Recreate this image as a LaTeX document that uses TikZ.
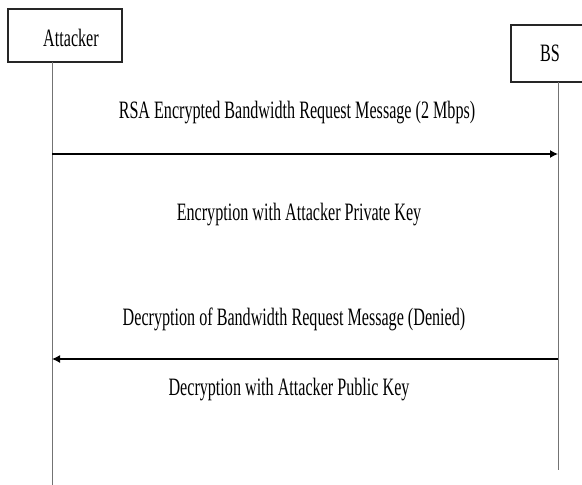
\documentclass[tikz,border=0pt]{standalone}
\usepackage{fontspec}
\setmainfont{Liberation Serif}
\usetikzlibrary{arrows.meta}
\tikzset{
  actor/.style={draw=black!85, line width=1.2pt, fill=white, inner sep=0pt},
  lifeline/.style={draw=black!55, line width=0.9pt},
  msg/.style={draw=black, line width=1.3pt, -{Latex[length=8pt,width=8pt]}},
  lbl/.style={inner sep=0pt, font=\fontsize{25}{28}\selectfont},
}
\newcommand{\cond}[1]{\scalebox{0.645}[1]{#1}}
\begin{document}
\begin{tikzpicture}[x=1pt,y=-1pt]
  \useasboundingbox (0,0) rectangle (582,485);
  % participants
  \node[actor, minimum width=114pt, minimum height=53pt] (att) at (65,35.5) {};
  \node[lbl] (attlbl) at (71,38) {\cond{Attacker}};
  \node[actor, minimum width=73pt, minimum height=57pt] (bs) at (547.5,53.5) {};
  \node[lbl] (bslbl) at (550,53) {\cond{BS}};
  % lifelines
  \coordinate (attTop) at (52,62);
  \coordinate (attEnd) at (52,485);
  \coordinate (bsTop) at (558,82);
  \coordinate (bsEnd) at (558,470);
  \draw[lifeline] (attTop) -- (attEnd);
  \draw[lifeline] (bsTop) -- (bsEnd);
  % messages
  \coordinate (m1a) at (52,154);
  \coordinate (m1b) at (558,154);
  \coordinate (m2a) at (558,359);
  \coordinate (m2b) at (52,359);
  \draw[msg] (m1a) -- (m1b);
  \draw[msg] (m2a) -- (m2b);
  % labels
  \node[lbl] (t1) at (297,113) {\cond{RSA Encrypted Bandwidth Request Message (2 Mbps)}};
  \node[lbl] (t2) at (299,215) {\cond{Encryption with Attacker Private Key}};
  \node[lbl] (t3) at (294,319) {\cond{Decryption of Bandwidth Request Message (Denied)}};
  \node[lbl] (t4) at (289,390) {\cond{Decryption with Attacker Public Key}};
\end{tikzpicture}
\end{document}
